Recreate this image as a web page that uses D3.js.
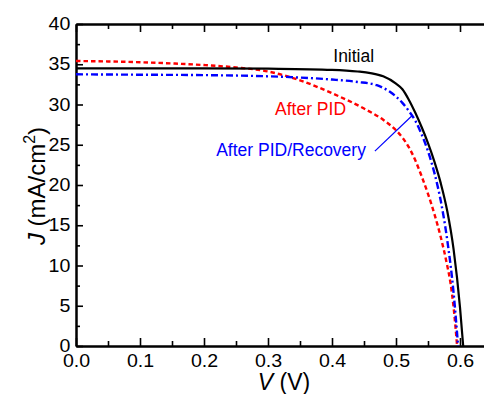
<!DOCTYPE html>
<html>
<head>
<meta charset="utf-8">
<script src="https://cdn.jsdelivr.net/npm/d3@7"></script>
<style>
body { margin: 0; background: #fff; }
svg { display: block; font-family: "Liberation Sans", Arial, Helvetica, sans-serif; }
</style>
</head>
<body>
<div id="chart"></div>
<script>
// J-V curves
const initialV = [0, 0.1, 0.2, 0.3, 0.4, 0.44, 0.46, 0.48, 0.5, 0.51, 0.52, 0.53, 0.54, 0.55, 0.56, 0.57, 0.58, 0.59, 0.6, 0.605];
const initialJ = [34.5, 34.5, 34.5, 34.45, 34.3, 34.1, 33.9, 33.5, 32.6, 31.9, 30.6, 29.0, 27.2, 25.2, 22.9, 20.2, 16.8, 12.0, 4.8, 0];

const pidV = [0, 0.05, 0.1, 0.15, 0.2, 0.25, 0.3, 0.35, 0.4, 0.45, 0.48, 0.5, 0.51, 0.52, 0.53, 0.54, 0.55, 0.56, 0.57, 0.58, 0.585, 0.59, 0.5955];
const pidJ = [35.4, 35.35, 35.25, 35.1, 34.9, 34.6, 34.1, 33.0, 31.4, 29.5, 28.1, 26.8, 25.9, 24.7, 23.1, 21.1, 18.9, 16.4, 13.5, 10.0, 7.9, 4.8, 0];

const recV = [0, 0.1, 0.2, 0.3, 0.35, 0.4, 0.44, 0.47, 0.49, 0.5, 0.51, 0.52, 0.53, 0.54, 0.55, 0.56, 0.57, 0.58, 0.59, 0.597];
const recJ = [33.75, 33.7, 33.65, 33.5, 33.35, 33.1, 32.8, 32.4, 31.6, 31.0, 30.2, 29.2, 28.0, 26.3, 24.2, 21.5, 18.0, 13.2, 6.6, 0];

const xTicks = [0, 0.1, 0.2, 0.3, 0.4, 0.5, 0.6];
const xMinor = [0.05, 0.15, 0.25, 0.35, 0.45, 0.55, 0.65];
const yTicks = [0, 5, 10, 15, 20, 25, 30, 35, 40];
const yMinor = [2.5, 7.5, 12.5, 17.5, 22.5, 27.5, 32.5, 37.5];

const width = 484, height = 394;
const margin = {left: 76, top: 24, bottom: 48};

const x = d3.scaleLinear().domain([0, 0.65]).range([margin.left, margin.left + 640 * 0.65]);
const y = d3.scaleLinear().domain([0, 40]).range([height - margin.bottom, margin.top]);

const svg = d3.select("#chart").append("svg")
  .attr("width", width)
  .attr("height", height);

const x0 = x.range()[0], x1 = x.range()[1];
const y0 = y.range()[0], y1 = y.range()[1];

// frame axes, ticks pointing inward
function styleAxis(g) {
  g.select(".domain").attr("stroke", "#000").attr("stroke-width", 2);
  g.selectAll(".tick line").attr("stroke", "#000").attr("stroke-width", 1.6);
  g.selectAll(".tick text").attr("fill", "#000").attr("font-size", 17.5);
}

svg.append("g").attr("transform", `translate(0,${y0})`)
  .call(d3.axisBottom(x).tickValues(xTicks).tickSizeInner(-8).tickSizeOuter(0).tickPadding(9).tickFormat(d3.format(".1f")))
  .call(styleAxis)
  .call(g => g.selectAll(".tick text").attr("transform", "scale(1.12,1)"));
svg.append("g").attr("transform", `translate(0,${y0})`)
  .call(d3.axisBottom(x).tickValues(xMinor).tickSizeInner(-5).tickSizeOuter(0).tickFormat(""))
  .call(styleAxis);

svg.append("g").attr("transform", `translate(0,${y1})`)
  .call(d3.axisTop(x).tickValues(xTicks).tickSizeInner(-8).tickSizeOuter(0).tickFormat(""))
  .call(styleAxis);
svg.append("g").attr("transform", `translate(0,${y1})`)
  .call(d3.axisTop(x).tickValues(xMinor).tickSizeInner(-5).tickSizeOuter(0).tickFormat(""))
  .call(styleAxis);

svg.append("g").attr("transform", `translate(${x0},0)`)
  .call(d3.axisLeft(y).tickValues(yTicks).tickSizeInner(-7).tickSizeOuter(0).tickPadding(5))
  .call(styleAxis)
  .call(g => g.selectAll(".tick text").attr("transform", "scale(1.12,1)"));
svg.append("g").attr("transform", `translate(${x0},0)`)
  .call(d3.axisLeft(y).tickValues(yMinor).tickSizeInner(-4).tickSizeOuter(0).tickFormat(""))
  .call(styleAxis);

svg.append("g").attr("transform", `translate(${x1},0)`)
  .call(d3.axisRight(y).tickValues(yTicks).tickSizeInner(-7).tickSizeOuter(0).tickFormat(""))
  .call(styleAxis);

// curves
const line = d3.line()
  .x(d => x(d[0]))
  .y(d => y(d[1]))
  .curve(d3.curveMonotoneX);

const series = [
  {v: pidV, j: pidJ, color: "#ff0000", dash: "4.5,3", w: 2.4},
  {v: recV, j: recJ, color: "#0000ff", dash: "7,3,2,3", w: 2.4},
  {v: initialV, j: initialJ, color: "#000000", dash: null, w: 2.2}
];

series.forEach(s => {
  svg.append("path")
    .datum(d3.zip(s.v, s.j))
    .attr("d", line)
    .attr("fill", "none")
    .attr("stroke", s.color)
    .attr("stroke-width", s.w)
    .attr("stroke-dasharray", s.dash);
});

// labels
const labels = [
  {text: "Initial", v: 0.402, j: 35.3, color: "#000"},
  {text: "After PID", v: 0.311, j: 28.7, color: "#ff0000"},
  {text: "After PID/Recovery", v: 0.219, j: 23.6, color: "#0000ff"}
];
svg.selectAll(".lbl").data(labels).enter().append("text")
  .attr("class", "lbl")
  .attr("x", d => x(d.v))
  .attr("y", d => y(d.j))
  .attr("fill", d => d.color)
  .attr("font-size", 17.5)
  .text(d => d.text);

// leader from the blue label to its curve
svg.append("line")
  .attr("x1", x(0.467)).attr("y1", y(24.2))
  .attr("x2", x(0.525)).attr("y2", y(28.6))
  .attr("stroke", "#0000ff")
  .attr("stroke-width", 1.2);

// axis titles
const xt = svg.append("text")
  .attr("x", (x(0) + x(0.6)) / 2 + 16)
  .attr("y", 390)
  .attr("text-anchor", "middle")
  .attr("font-size", 23);
xt.append("tspan").attr("font-style", "italic").text("V");
xt.append("tspan").text(" (V)");

const yt = svg.append("text")
  .attr("transform", "translate(45,186) rotate(-90)")
  .attr("text-anchor", "middle")
  .attr("font-size", 24);
yt.append("tspan").attr("font-style", "italic").text("J");
yt.append("tspan").text(" (mA/cm");
yt.append("tspan").attr("font-size", 16).attr("dy", -10).text("2");
yt.append("tspan").attr("dy", 10).text(")");
</script>
</body>
</html>
